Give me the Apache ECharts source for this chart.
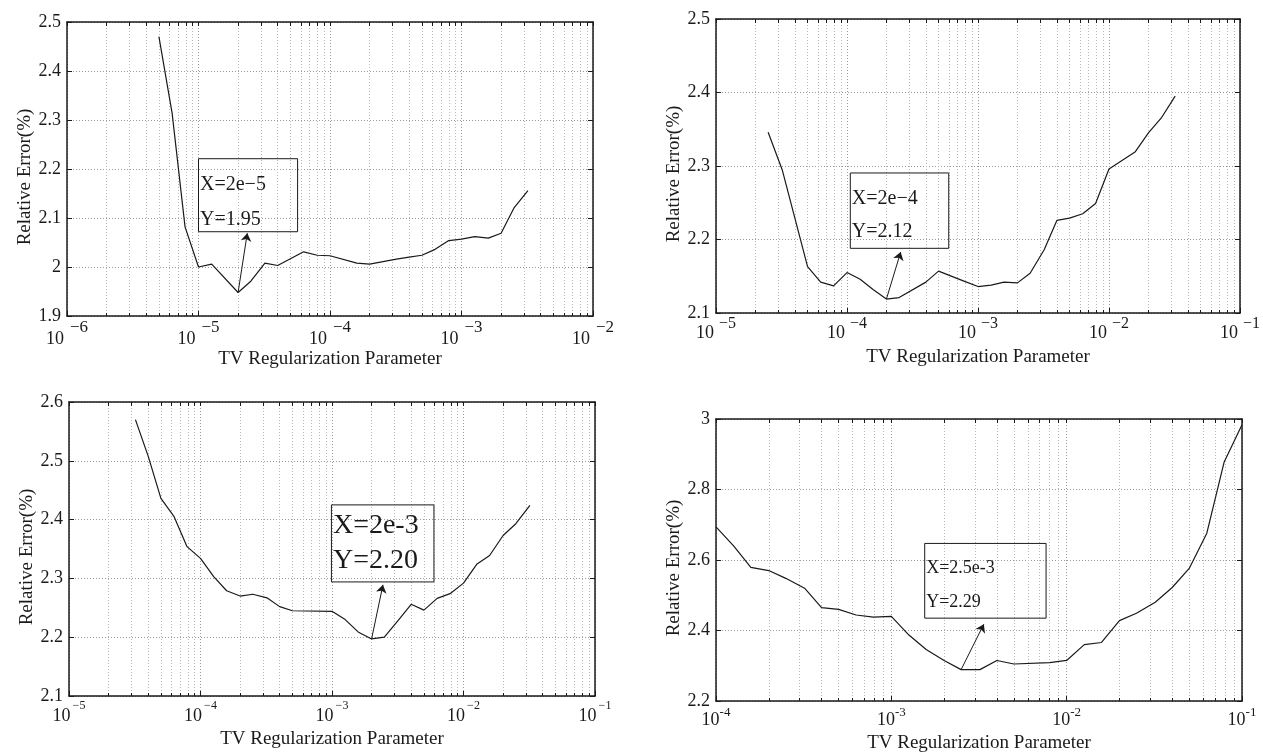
<!DOCTYPE html>
<html>
<head>
<meta charset="utf-8">
<script src="https://cdn.jsdelivr.net/npm/echarts@6/dist/echarts.min.js"></script>
<style>
    html, body { margin: 0; padding: 0; background: #fff; }
    #chart { width: 1263px; height: 754px; }
</style>
</head>
<body>
<div id="chart"></div>
<script>
// panel 1 (top left)
const p1Decades = [1e-6, 1e-5, 1e-4, 1e-3, 1e-2]
const p1X = [5e-6, 6.3e-6, 7.9e-6, 1e-5, 1.26e-5, 2e-5, 2.5e-5, 3.2e-5, 4e-5, 6.3e-5, 8e-5, 1e-4, 1.6e-4, 2e-4, 3.2e-4, 4e-4, 5e-4, 6.3e-4, 8e-4, 1e-3, 1.26e-3, 1.6e-3, 2e-3, 2.5e-3, 3.2e-3]
const p1Y = [2.47, 2.314, 2.082, 2.0, 2.006, 1.948, 1.971, 2.008, 2.003, 2.031, 2.024, 2.023, 2.008, 2.006, 2.016, 2.02, 2.024, 2.036, 2.054, 2.057, 2.062, 2.059, 2.069, 2.12, 2.156]
const p1Note = ['X=2e\u22125', 'Y=1.95']

// panel 2 (top right)
const p2Decades = [1e-5, 1e-4, 1e-3, 1e-2, 1e-1]
const p2X = [2.5e-5, 3.2e-5, 5e-5, 6.3e-5, 7.9e-5, 1e-4, 1.26e-4, 1.58e-4, 2e-4, 2.5e-4, 4e-4, 5e-4, 7.9e-4, 1e-3, 1.26e-3, 1.58e-3, 2e-3, 2.5e-3, 3.2e-3, 4e-3, 5e-3, 6.3e-3, 7.9e-3, 1e-2, 1.58e-2, 2e-2, 2.5e-2, 3.2e-2]
const p2Y = [2.346, 2.295, 2.163, 2.142, 2.137, 2.155, 2.146, 2.132, 2.119, 2.121, 2.142, 2.157, 2.143, 2.136, 2.138, 2.142, 2.141, 2.154, 2.186, 2.226, 2.229, 2.235, 2.249, 2.296, 2.319, 2.345, 2.365, 2.395]
const p2Note = ['X=2e\u22124', 'Y=2.12']

// panel 3 (bottom left)
const p3Decades = [1e-5, 1e-4, 1e-3, 1e-2, 1e-1]
const p3X = [3.2e-5, 4e-5, 5e-5, 6.3e-5, 7.9e-5, 1e-4, 1.26e-4, 1.58e-4, 2e-4, 2.5e-4, 3.2e-4, 4e-4, 5e-4, 1e-3, 1.26e-3, 1.58e-3, 2e-3, 2.5e-3, 3.2e-3, 4e-3, 5e-3, 6.3e-3, 7.9e-3, 1e-2, 1.26e-2, 1.58e-2, 2e-2, 2.5e-2, 3.2e-2]
const p3Y = [2.570, 2.508, 2.436, 2.405, 2.354, 2.334, 2.303, 2.279, 2.270, 2.273, 2.267, 2.252, 2.245, 2.244, 2.230, 2.209, 2.197, 2.200, 2.229, 2.256, 2.246, 2.266, 2.274, 2.292, 2.324, 2.339, 2.373, 2.393, 2.424]
const p3Note = ['X=2e-3', 'Y=2.20']

// panel 4 (bottom right)
const p4Decades = [1e-4, 1e-3, 1e-2, 1e-1]
const p4X = [1e-4, 1.26e-4, 1.58e-4, 2e-4, 2.5e-4, 3.2e-4, 4e-4, 5e-4, 6.3e-4, 7.9e-4, 1e-3, 1.26e-3, 1.58e-3, 2e-3, 2.5e-3, 3.2e-3, 4e-3, 5e-3, 8e-3, 1e-2, 1.26e-2, 1.58e-2, 2e-2, 2.5e-2, 3.2e-2, 4e-2, 5e-2, 6.3e-2, 7.9e-2, 1e-1]
const p4Y = [2.694, 2.640, 2.579, 2.570, 2.548, 2.520, 2.465, 2.460, 2.444, 2.438, 2.440, 2.387, 2.346, 2.315, 2.289, 2.289, 2.315, 2.305, 2.309, 2.315, 2.360, 2.366, 2.428, 2.449, 2.480, 2.522, 2.576, 2.676, 2.877, 2.984]
const p4Note = ['X=2.5e-3', 'Y=2.29']

const FONT = '"Liberation Serif", "Times New Roman", serif'
const INK = '#1a1a1a'

// box corners and arrow ends in data space
const panels = [
    {
        decades: p1Decades, xs: p1X, ys: p1Y, note: p1Note,
        yMin: 1.9, yMax: 2.5, yStep: 0.1,
        rect: { left: 67, top: 22, width: 526, height: 294 },
        box: [[1e-5, 2.221], [5.67e-5, 2.072]],
        arrow: [[2e-5, 1.948], [2.35e-5, 2.069]],
        noteSize: 20, noteLine: 35, noteShift: 7,
        minus: '\u2212', expSize: 17, expGap: 6, expRaise: 12, labelMargin: 14, nameGap: 34,
    },
    {
        decades: p2Decades, xs: p2X, ys: p2Y, note: p2Note,
        yMin: 2.1, yMax: 2.5, yStep: 0.1,
        rect: { left: 716, top: 19, width: 526, height: 294 },
        box: [[1.06e-4, 2.2905], [5.98e-4, 2.188]],
        arrow: [[2e-4, 2.119], [2.57e-4, 2.183]],
        noteSize: 20, noteLine: 33, noteShift: 5,
        minus: '\u2212', expSize: 16, expGap: 5, expRaise: 10, labelMargin: 11, nameGap: 35,
    },
    {
        decades: p3Decades, xs: p3X, ys: p3Y, note: p3Note,
        yMin: 2.1, yMax: 2.6, yStep: 0.1,
        rect: { left: 69, top: 402, width: 526, height: 294 },
        box: [[9.9e-4, 2.425], [5.96e-3, 2.294]],
        arrow: [[2e-3, 2.197], [2.44e-3, 2.289]],
        noteSize: 28, noteLine: 35, noteShift: 0,
        minus: '\u2212', expSize: 12, expGap: 2, expRaise: 11, labelMargin: 11, nameGap: 34,
    },
    {
        decades: p4Decades, xs: p4X, ys: p4Y, note: p4Note,
        yMin: 2.2, yMax: 3, yStep: 0.2,
        rect: { left: 716, top: 419, width: 526, height: 283 },
        box: [[1.55e-3, 2.647], [7.63e-3, 2.435]],
        arrow: [[2.5e-3, 2.289], [3.37e-3, 2.418]],
        noteSize: 18, noteLine: 34, noteShift: 4,
        minus: '-', expSize: 13, expGap: 0, expRaise: 8, labelMargin: 10, nameGap: 33,
    },
]

const chart = echarts.init(document.getElementById('chart'))

const option = {
    animation: false,
    backgroundColor: '#fff',
    grid: [],
    xAxis: [],
    yAxis: [],
    series: [],
}

panels.forEach((p, i) => {
    const exps = p.decades.map(d => Math.round(Math.log10(d)))
    const minExp = exps[0]
    const maxExp = exps[exps.length - 1]
    const minorExps = []
    const allExps = []
    for (let e = minExp; e < maxExp; e++) {
        allExps.push(e)
        for (let k = 2; k <= 9; k++) {
            minorExps.push(e + Math.log10(k))
            allExps.push(e + Math.log10(k))
        }
    }
    allExps.push(maxExp)

    option.grid.push({ ...p.rect })

    const xIndex = option.xAxis.length
    const yIndex = option.yAxis.length

    // main log axis: labels, major ticks, decade grid lines
    option.xAxis.push({
        type: 'log',
        gridIndex: i,
        position: 'bottom',
        min: p.decades[0],
        max: p.decades[p.decades.length - 1],
        name: 'TV Regularization Parameter',
        nameLocation: 'middle',
        nameGap: p.nameGap,
        nameMoveOverlap: false,
        nameTextStyle: { fontFamily: FONT, fontSize: 19, color: INK },
        axisLine: { show: true, onZero: false, lineStyle: { color: INK, width: 1.5 } },
        axisTick: { show: true, inside: true, length: 5, lineStyle: { color: INK } },
        axisLabel: {
            margin: p.labelMargin,
            showMinLabel: true,
            showMaxLabel: true,
            formatter: value => {
                const e = Math.round(Math.log10(value))
                return '{b|10}{e|' + (e < 0 ? p.minus : '') + Math.abs(e) + '}'
            },
            rich: {
                b: { fontFamily: FONT, fontSize: 18, color: INK, lineHeight: 19 },
                // bottom padding lifts the exponent by half its size
                e: {
                    fontFamily: FONT, fontSize: p.expSize, color: INK, lineHeight: p.expSize,
                    padding: [0, 0, p.expRaise * 2, p.expGap],
                },
            },
        },
        splitLine: { show: true, lineStyle: { color: '#999', width: 1, type: [1, 2] } },
    })
    // minor ticks and grid lines at 2..9 of each decade
    option.xAxis.push({
        type: 'value',
        gridIndex: i,
        position: 'bottom',
        min: minExp,
        max: maxExp,
        axisLine: { show: false, onZero: false },
        axisTick: { show: true, inside: true, length: 3, customValues: minorExps, lineStyle: { color: INK } },
        axisLabel: { show: false },
        splitLine: { show: true, lineStyle: { color: '#b8b8b8', width: 1, type: [1, 2] } },
    })
    // top frame
    option.xAxis.push({
        type: 'value',
        gridIndex: i,
        position: 'top',
        min: minExp,
        max: maxExp,
        axisLine: { show: true, onZero: false, lineStyle: { color: INK, width: 1.5 } },
        axisTick: { show: true, inside: true, length: 4, customValues: allExps, lineStyle: { color: INK } },
        axisLabel: { show: false },
        splitLine: { show: false },
    })

    option.yAxis.push({
        type: 'value',
        gridIndex: i,
        position: 'left',
        min: p.yMin,
        max: p.yMax,
        interval: p.yStep,
        name: 'Relative Error(%)',
        nameLocation: 'middle',
        nameGap: 32,
        nameTextStyle: { fontFamily: FONT, fontSize: 19, color: INK, padding: [0, 16, 0, 0] },
        axisLine: { show: true, onZero: false, lineStyle: { color: INK, width: 1.5 } },
        axisTick: { show: true, inside: true, length: 5, lineStyle: { color: INK } },
        axisLabel: { margin: 6, fontFamily: FONT, fontSize: 18, color: INK },
        splitLine: { show: true, lineStyle: { color: '#999', width: 1, type: [1, 2] } },
    })
    // right frame
    option.yAxis.push({
        type: 'value',
        gridIndex: i,
        position: 'right',
        min: p.yMin,
        max: p.yMax,
        interval: p.yStep,
        axisLine: { show: true, onZero: false, lineStyle: { color: INK, width: 1.5 } },
        axisTick: { show: true, inside: true, length: 5, lineStyle: { color: INK } },
        axisLabel: { show: false },
        splitLine: { show: false },
    })

    option.series.push({
        type: 'line',
        xAxisIndex: xIndex,
        yAxisIndex: yIndex,
        data: p.xs.map((x, j) => [x, p.ys[j]]),
        showSymbol: false,
        symbol: 'none',
        silent: true,
        lineStyle: { color: INK, width: 1.2 },
        markLine: {
            silent: true,
            symbol: ['none', 'arrow'],
            symbolSize: 8,
            label: { show: false },
            lineStyle: { color: INK, width: 1, type: 'solid' },
            data: [[{ coord: p.arrow[0] }, { coord: p.arrow[1] }]],
        },
        markArea: {
            silent: true,
            itemStyle: { color: 'rgba(255,255,255,0)', borderColor: INK, borderWidth: 1 },
            label: {
                show: true,
                position: 'insideLeft',
                distance: 2,
                offset: [0, p.noteShift],
                formatter: p.note.join('\n'),
                fontFamily: FONT,
                fontSize: p.noteSize,
                lineHeight: p.noteLine,
                color: INK,
            },
            data: [[{ coord: p.box[0] }, { coord: p.box[1] }]],
        },
    })
})

chart.setOption(option)
</script>
</body>
</html>
